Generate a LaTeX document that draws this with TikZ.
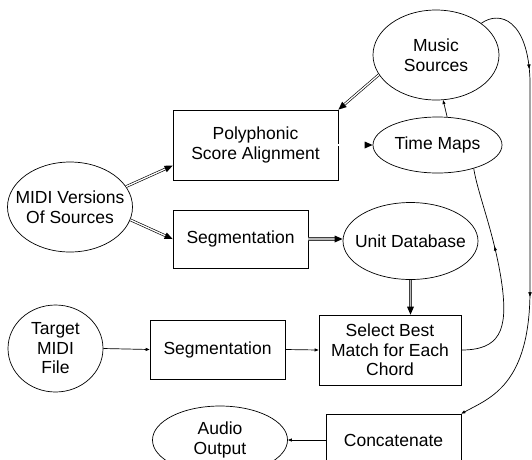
\documentclass[tikz,border=0pt]{standalone}
\usepackage{fontspec}
\setmainfont{Liberation Sans}
\usetikzlibrary{shapes.geometric,arrows.meta,decorations.markings}

\begin{document}
\begin{tikzpicture}[
    x=1pt, y=-1pt, line width=0.7pt,
    every node/.style = {align=center, inner sep=0pt,
    font=\fontsize{17.5}{19.5}\selectfont},
    box/.style = {draw, rectangle},
    oval/.style = {draw, ellipse, inner xsep=-14pt},
    tipend/.style = {postaction={decorate}, decoration={markings,
    mark=at position 1 with {\fill[#1] (0,0) -- (-8pt,3.5pt) -- (-8pt,-3.5pt) -- cycle;}}},
    dbl/.style = {double, double distance=1.3pt, line width=0.65pt, shorten >=7pt, tipend=black},
    fat/.style = {draw=black!75, double=gray!55, double distance=1.5pt, line width=1pt,
    shorten >=7pt, tipend=black},
    thin/.style = {-{Triangle[length=4pt,width=3pt]}},
    midarrow/.style = {postaction={decorate}, decoration={markings,
    mark=at position #1 with {\arrow{Triangle[length=4pt,width=3pt]}}}},
    ]
  \useasboundingbox (0,0) rectangle (532,459);

  \node[oval, minimum width=126pt, minimum height=90pt] (mus) at (436,55) {Music\\Sources};
  \node[box, minimum width=165pt, minimum height=70pt] (poly) at (255.5,145) {Polyphonic\\Score Alignment};
  \node[oval, minimum width=129pt, minimum height=56pt] (tmap) at (437.5,145) {Time Maps};
  \node[oval, minimum width=125pt, minimum height=90pt] (midi) at (70,207) {MIDI Versions\\Of Sources};
  \node[box, minimum width=135pt, minimum height=58pt] (segA) at (240.5,239) {Segmentation};
  \node[oval, minimum width=135pt, minimum height=77pt] (unit) at (410.5,241) {Unit Database};
  \node[oval, minimum width=95pt, minimum height=87pt] (target) at (55.5,348.5) {Target\\MIDI\\File};
  \node[box, minimum width=135pt, minimum height=59pt] (segB) at (217.5,349.5) {Segmentation};
  \node[box, minimum width=142pt, minimum height=70pt] (best) at (390,350) {Select Best\\Match for Each\\Chord};
  \node[box, minimum width=135pt, minimum height=52pt] (concat) at (393.5,440) {Concatenate};
  \node[oval, minimum width=135pt, minimum height=68pt] (audio) at (220,440) {Audio\\Output};

  % source material
  \draw[dbl] (midi.20) -- (poly.194);
  \draw[dbl] (midi.-12) -- (segA.west);
  \draw[dbl] (mus.-161) -- (poly.north east);
  \draw[dbl] (poly.east) -- (tmap.west);
  \draw[thin] (tmap.71) -- (mus.-81);
  \draw[fat] (segA.east) -- (segA.east -| unit.west);
  \draw[fat] (unit.south) -- (unit.south |- best.north);

  % target
  \draw[thin] (target.east) -- (segB.west);
  \draw[thin] (segB.east) -- (best.west);
  \draw[midarrow=0.62] (best.east) .. controls (500,350) and (508,330) .. (502,285)
    .. controls (495,235) and (478,195) .. (tmap.-33);
  \draw[thin, midarrow=0.18, midarrow=0.68] (mus.35) .. controls (500,10) and (528,20) .. (530,80)
    -- (530,290) .. controls (530,385) and (490,398) .. (concat.north east);
  \draw[thin] (concat.west) -- (audio.east);
\end{tikzpicture}
\end{document}
